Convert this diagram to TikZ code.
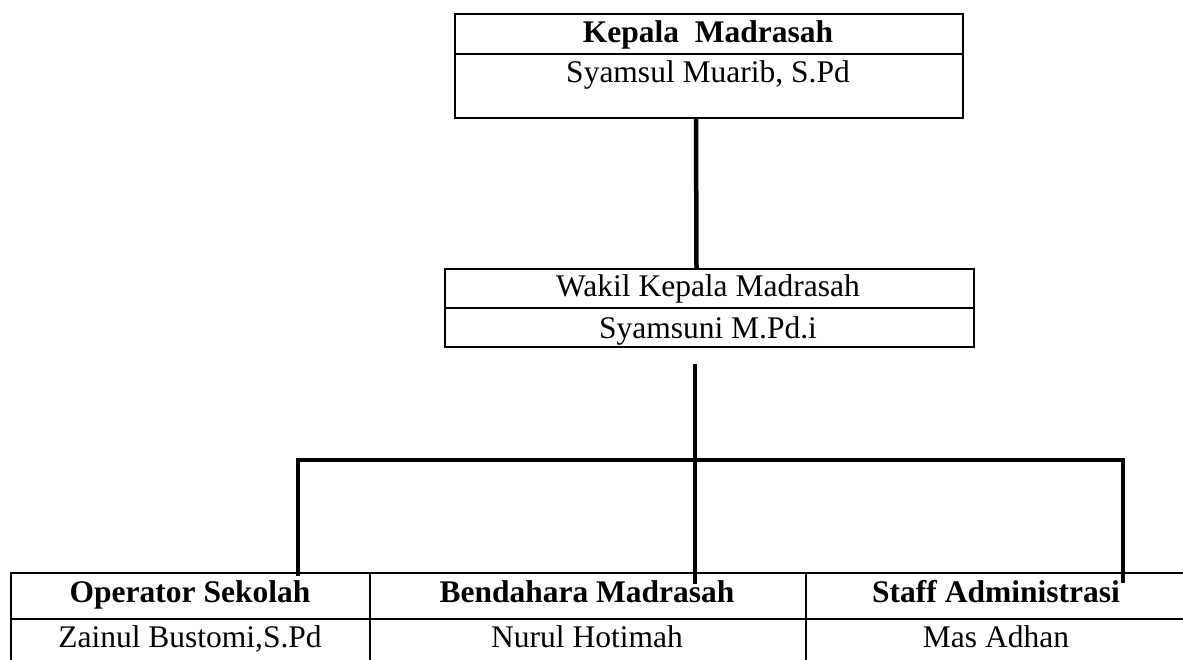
\documentclass[tikz,border=0pt]{standalone}
\usepackage{fontspec}
\setmainfont{Liberation Serif}
\begin{document}
\begin{tikzpicture}[x=1pt,y=-1pt,
  cell/.style={draw=black, line width=2pt, inner sep=0pt, anchor=north west},
  txt/.style={inner sep=0pt, anchor=base, font=\fontsize{31.5}{36}\selectfont},
  btxt/.style={txt, font=\fontsize{31.5}{36}\selectfont\bfseries},
  conn/.style={line width=4.5pt, line join=miter, black}]
\useasboundingbox (0,0) rectangle (1183,660);
% top box
\node[cell, minimum width=508pt, minimum height=40pt] (k1) at (454,13) {};
\node[cell, minimum width=508pt, minimum height=64pt] (k2) at (454,53) {};
\node[btxt] (kt) at (708,43) {Kepala\ \ Madrasah};
\node[txt] (kn) at (708,83) {Syamsul Muarib, S.Pd};
% middle box
\node[cell, minimum width=529pt, minimum height=39pt] (w1) at (444,268) {};
\node[cell, minimum width=529pt, minimum height=39pt] (w2) at (444,307) {};
\node[txt] (wt) at (708,297) {Wakil Kepala Madrasah};
\node[txt] (wn) at (708,338) {Syamsuni M.Pd.i};
% table
\node[cell, minimum width=359pt, minimum height=46pt] (o1) at (10,572) {};
\node[cell, minimum width=436pt, minimum height=46pt] (b1) at (369,572) {};
\node[cell, minimum width=382pt, minimum height=46pt] (s1) at (805,572) {};
\node[cell, minimum width=359pt, minimum height=48pt] (o2) at (10,618) {};
\node[cell, minimum width=436pt, minimum height=48pt] (b2) at (369,618) {};
\node[cell, minimum width=382pt, minimum height=48pt] (s2) at (805,618) {};
\node[btxt] (ot) at (190,602) {Operator Sekolah};
\node[btxt] (bt) at (587,602) {Bendahara Madrasah};
\node[btxt] (st) at (996,602) {Staff Administrasi};
\node[txt] (on) at (190,647) {Zainul Bustomi,S.Pd};
\node[txt] (bn) at (587,647) {Nurul Hotimah};
\node[txt] (sn) at (996,647) {Mas Adhan};
% connectors
\coordinate (bl) at (298,460);
\coordinate (bm) at (695,460);
\coordinate (br) at (1123,460);
\draw[conn] ([xshift=-13pt]k2.south) -- ([xshift=-13pt]w1.north);
\draw[conn] (695,364) -- (bm);
\draw[conn] (298,576) -- (bl) -- (br) -- (1123,583);
\draw[conn] (bm) -- (695,584);
\end{tikzpicture}
\end{document}
